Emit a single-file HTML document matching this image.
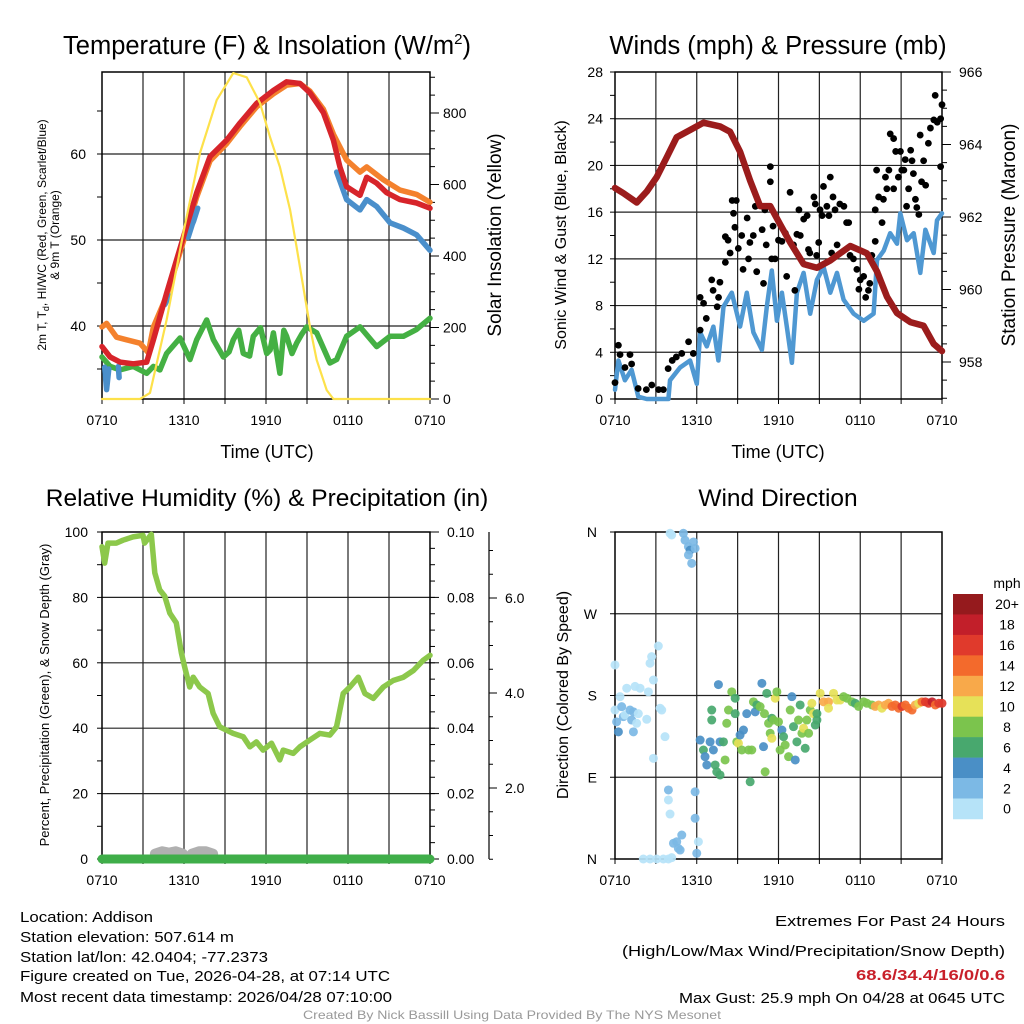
<!DOCTYPE html>
<html><head><meta charset="utf-8"><style>
html,body{margin:0;padding:0;background:#fff;width:1024px;height:1024px;overflow:hidden}
svg{display:block;font-family:"Liberation Sans",Arial,sans-serif}
</style></head><body>
<svg id="root" width="1024" height="1024" viewBox="0 0 1024 1024"></svg>
<script>
// ---------- DATA ----------
const tempT = [0,0.59,1.32,2.29,3.27,3.76,4.73,5.95,6.93,7.9,9.12,10.1,11.32,12.54,13.51,14.49,15.22,16.2,16.93,17.41,17.9,18.88,19.37,20.1,20.83,21.8,23.02,24];
const tempV = [37.6,36.4,35.8,35.6,35.8,38.4,43.8,50.3,55.5,59.7,61.6,63.6,65.9,67.4,68.4,68.2,67.1,64.8,61.6,58.5,56.2,55.2,57.3,56.6,55.5,54.7,54.3,53.7];
const t9T = [0,0.34,1.07,1.8,2.78,3.39,3.76,4.73,5.95,6.93,7.9,9.12,10.1,11.32,12.54,13.51,14.49,15.22,16.2,16.93,17.9,18.88,19.37,20.59,21.8,23.02,24];
const t9V = [39.9,40.3,38.7,38.4,38.0,36.9,39.9,43.5,49.8,55.0,59.2,61.2,63.2,65.5,67.0,68.0,68.2,67.3,65.2,62.3,59.3,57.9,58.5,57.0,55.8,55.3,54.4];
const hiT = [0.2,0.34,0.5,null,1.2,1.25,null,4.6,4.9,null,6.3,6.6,6.7,7.0,null,17.17,17.9,18.88,19.37,20.1,21.07,22.05,23.02,24];
const hiV = [35.2,32.6,35.0,null,35.3,34.0,null,42.5,43.5,null,50.3,51.8,52.2,53.7,null,57.9,54.7,53.5,54.7,53.9,52.0,51.4,50.6,48.8];
const tdT = [0,0.59,1.32,2.29,3.27,3.76,4.24,4.73,5.71,6.44,6.93,7.66,8.15,8.88,9.3,9.61,10.0,10.34,10.8,11.07,11.6,12.05,12.3,12.54,13.02,13.3,13.51,13.9,14.24,14.6,14.98,15.71,16.68,17.17,17.9,18.88,20.1,21.07,22.05,23.02,24];
const tdV = [36.4,35.3,34.9,35.3,34.5,35.3,34.9,36.8,38.6,36.1,38.4,40.7,38.4,36.4,37.0,38.4,39.5,36.8,36.5,38.8,39.8,36.8,37.2,39.2,34.5,39.5,38.8,36.8,38.0,39.0,39.9,39.2,35.7,36.1,38.8,39.9,37.6,38.8,38.8,39.6,40.9];
const solT = [0,2.78,3.51,4.73,5.95,7.17,8.39,9.61,10.59,11.56,12.29,13.02,13.76,14.24,14.73,15.22,15.71,16.44,16.93,24];
const solV = [0,0,17,221,464,688,836,912,900,828,733,649,529,425,313,201,109,25,0,0];
const presT = [0,0.61,1.59,2.33,3.06,3.8,4.53,5.51,6.49,7.71,8.45,9.18,9.92,10.65,11.39,12.12,12.86,13.84,14.82,15.8,16.53,17.27,18.49,19.23,19.96,20.7,21.67,22.65,23.39,24];
const presV = [962.8,962.66,962.4,962.7,963.1,963.65,964.2,964.4,964.6,964.5,964.35,963.8,963.0,962.3,962.3,961.8,961.3,960.7,960.6,960.8,961.0,961.2,961.0,960.5,959.8,959.35,959.1,959.0,958.5,958.3];
const windT = [0,0.25,0.73,1.22,1.71,2.33,3.31,3.92,4.04,4.78,5.51,6.0,6.25,6.74,7.22,7.59,7.96,8.57,9.18,9.67,10.16,10.78,11.14,11.51,11.88,12.25,12.61,12.98,13.35,13.84,14.33,14.82,15.31,15.8,16.29,16.78,17.51,18.25,18.98,19.23,19.72,20.2,20.7,20.94,21.43,21.92,22.41,22.78,23.39,23.63,24];
const windV = [0.8,3.3,1.6,2.5,0.2,0,0,0,1.6,2.7,3.3,1.3,5.7,4.5,6.2,3.3,7.9,9.1,6.2,9.1,5.7,4.2,7.9,11.0,6.7,9.1,6.2,3.1,9.1,10.8,7.3,10.2,11.3,9.1,10.8,8.5,7.3,6.7,7.3,11.9,12.7,14.2,13.3,15.9,13.6,14.2,10.8,14.5,12.5,15.3,15.9];
const gustT = [0,0.25,0.37,0.73,1.1,1.22,1.7,2.3,2.7,3.2,3.55,3.9,4.2,4.5,4.9,5.4,5.75,6.25,6.25,6.5,6.7,7.1,7.2,7.5,7.6,7.7,8.1,8.1,8.3,8.45,8.6,8.7,8.8,8.9,9.05,9.3,9.4,9.7,9.8,9.9,10.15,10.3,10.4,10.8,10.9,11.0,11.1,11.4,11.4,11.5,11.6,11.75,12,12.25,12.5,12.6,12.85,13.1,13.2,13.35,13.5,13.6,13.85,14.1,14.2,14.3,14.6,14.7,14.8,14.95,15.05,15.2,15.3,15.55,15.7,15.8,15.9,16.0,16.15,16.3,16.5,16.8,17.0,17.15,17.25,17.5,17.75,17.9,18.0,18.25,18.4,18.6,18.7,18.85,19.1,19.1,19.2,19.35,19.6,19.7,19.85,19.95,20.1,20.2,20.45,20.45,20.6,20.8,20.95,21.05,21.2,21.3,21.4,21.55,21.7,21.8,21.9,22.05,22.15,22.3,22.4,22.5,22.65,22.8,23.0,23.15,23.4,23.5,23.65,23.9,24,23.9];
const gustV = [1.4,4.6,3.8,2.7,3.8,3.0,0.9,0.8,1.2,0.8,0.8,2.6,3.3,3.6,3.9,4.9,3.9,5.9,8.7,8.2,6.9,10.2,9.3,7.9,8.7,10.0,11.7,13.9,13.6,12.5,17.0,15.9,14.7,17.0,12.9,14.0,11.1,15.5,12.0,13.4,14.0,16.5,10.9,14.5,9.9,16.2,13.2,19.9,18.6,12.0,14.8,12.0,13.6,13.5,14.2,10.5,17.7,13.2,9.3,14.1,16.2,14.0,15.4,15.7,12.8,12.5,17.3,16.7,12.3,13.4,16.2,15.7,18.2,16.5,15.7,19.0,12.5,17.3,16.2,13.2,16.7,16.5,15.1,15.1,12.3,12.0,11.1,9.4,10.2,10.5,8.7,9.3,9.9,12.3,13.5,16.2,19.6,17.3,15.1,17.1,19.0,18.0,19.6,22.7,22.3,18.0,21.2,19.0,21.2,19.6,19.6,20.5,16.5,18.0,21.3,20.4,19.3,17.1,16.4,15.8,22.6,18.6,20.4,18.3,21.9,23.2,23.9,26.0,23.7,24.0,25.2,19.9];
const rhT = [0,0.2,0.44,1.05,1.54,2.27,3.0,3.12,3.61,3.86,4.22,4.59,4.96,5.44,5.81,6.05,6.42,6.67,7.15,7.76,8.13,8.62,9.11,9.59,10.33,10.82,11.3,11.79,12.4,13.01,13.26,13.99,14.48,15.21,15.94,16.67,17.16,17.65,18.14,18.75,19.24,19.85,20.58,21.31,22.05,22.78,23.51,24];
const rhV = [95.5,90.5,96.6,96.6,97.5,98.5,99,96.6,99.3,87.5,82.3,80.4,75.2,72.2,63,58.7,52.6,55.6,52.6,50.6,44.6,40.4,39.4,38.4,37.4,34.3,35.8,33.3,35.4,30.3,33.3,32.3,34.3,36.4,38.4,37.9,40.4,50.6,52.6,55.6,50.6,49.1,52.6,54.6,55.6,57.6,60.8,62.3];
const precT = [0,24];
const precV = [0,0];
const snowT = [3.9,4.4,4.9,5.4,5.9,null,6.6,7.1,7.6,8.1];
const snowV = [0.0015,0.0022,0.0018,0.0022,0.0015,null,0.0015,0.0022,0.0022,0.0015];
const dirT = [0,0,0.12,0.25,0.37,0.49,0.61,0.73,0.86,1.10,1.22,1.35,1.47,1.59,1.71,1.35,1.84,2.33,2.45,2.57,2.69,2.82,3.18,3.31,3.43,3.67,2.82,3.92,3.92,4.04,4.29,4.53,4.78,4.90,4.65,2.08,2.57,3.06,3.55,3.92,4.16,5.88,5.88,6.12,6.0,4.04,4.16,5.02,5.14,5.39,5.51,5.76,5.88,5.39,5.63,
7.59,6.25,6.49,6.61,6.74,6.98,7.10,7.10,7.22,7.35,7.47,7.71,7.71,7.96,8.08,8.2,8.33,8.57,8.82,8.82,8.94,9.06,9.18,9.31,9.43,9.67,9.80,9.92,10.04,10.16,10.29,10.41,10.65,10.78,10.9,10.97,11.02,11.14,11.27,11.39,11.51,11.51,11.63,11.76,11.88,12.0,12.12,12.25,12.37,12.49,12.74,12.86,12.98,13.1,13.23,13.35,13.47,13.59,13.72,13.84,13.96,14.08,14.21,14.33,14.45,14.57,14.7,14.82,14.82,
15.06,15.31,15.67,15.67,16.04,16.29,16.53,16.78,17.02,17.39,17.63,17.88,18.25,18.49,18.86,19.1,19.35,19.59,19.84,20.08,20.33,20.57,20.82,21.06,21.31,21.55,21.8,22.04,22.29,22.53,22.78,23.02,23.27,23.51,23.76,24];
const dirV = [213.6,164,151,140,178.7,167.7,156.7,158.5,188,164,153,162,190,149.4,160,140,188,153.8,184,215.5,222.8,197,234.5,166,164,134.7,110.8,76,65,49.5,17.3,19,9.9,26.4,11.7,0,0,0,0,0,1.5,74,44.8,19,6.3,358.6,356.7,358.6,351,343.9,340,349,342,334.7,325.5,
192,131,120,112.7,103.5,129,164,153,120,103.5,96,92.5,129,129,109,149.4,164,184,177,160,129,127.4,136.5,120,142,160,120,85,120,173,162,169.6,167.7,193.4,123.7,160,96,182.4,149.4,138.4,155,132.9,153,177,184,151,120,142,134.7,125.5,112.7,164,178.7,145.7,109,129,153,169.6,138.4,143.9,121.9,153,138.4,164,171.4,160,147.5,153,160,
182.4,173,173,166,182.4,175,175,178.7,177,173,171.4,168,173,171.4,169.6,168,169.6,166,169.6,171.4,168,169.6,166,168,169.6,166,164,169.6,171.4,173,173,171.4,173,169.6,171.4,171.4];
const dirS = [1,1.5,2,4.5,1.5,2.5,3,1,1,3,3,2.5,1,1.5,1.5,3,1,1,1,1,1,1,1,1,1,1,1,3,1,1,2.5,2.5,2.5,2.5,2.5,1,1,1,1,1,1,3,2,1,3,1,1,2,2,2,4,2,2,2,2,
4,4,6,4,4,4,6,6,4,6,6,6,4,6,8,8,8,8,7,6,8,10,4,8,4,4,8,6,8,8,4,6,8,4,4,8,8,6,8,8,6,10,8,10,8,8,8,4,6,8,8,8,4,6,4,6,8,6,8,10,6,8,8,8,10,10,6,6,6,
10,12,12,10,10,10,10,8,8,8,6,8,8,8,8,12,12,10,12,12,14,14,14,16,14,14,14,12,10,14,16,16,18,14,16,16];
const speedColors = ['#b6e3f8','#7cb9e5','#4a8fc6','#48a86e','#7bc44d','#e6e158','#f8a94a','#f36a2c','#e03a2c','#c21f2a','#951a1d'];
const speedLabels = ['0','2','4','6','8','10','12','14','16','18','20+'];
const xTickLabels = ['0710','1310','1910','0110','0710'];
const xTickHours = [0,6,12,18,24];

// ---------- HELPERS ----------
const NS='http://www.w3.org/2000/svg';
const root=document.getElementById('root');
function mk(tag,attrs,parent){const e=document.createElementNS(NS,tag);for(const k in attrs)e.setAttribute(k,attrs[k]);(parent||root).appendChild(e);return e;}
function grp(name){const g=mk('g',{});return g;}
function txt(g,x,y,s,size,anchor,extra){const t=mk('text',Object.assign({x:x,y:y,'font-size':size,'text-anchor':anchor||'middle',fill:'#000'},extra||{}),g);t.textContent=s;return t;}
function linear(d0,d1,r0,r1){return v=>r0+(v-d0)/(d1-d0)*(r1-r0);}
function pathFrom(T,V,sx,sy){let d='',pen=false;for(let i=0;i<T.length;i++){if(T[i]===null||V[i]===null){pen=false;continue;}d+=(pen?'L':'M')+sx(T[i]).toFixed(1)+','+sy(V[i]).toFixed(1);pen=true;}return d;}
function series(g,T,V,sx,sy,color,w){return mk('path',{d:pathFrom(T,V,sx,sy),fill:'none',stroke:color,'stroke-width':w,'stroke-linejoin':'round','stroke-linecap':'round'},g);}
function frame(g,x0,x1,y0,y1,sx,hy){
  for(let h=3;h<24;h+=3){mk('line',{x1:sx(h),x2:sx(h),y1:y0,y2:y1,stroke:'#222','stroke-width':1.2},g);}
  hy.forEach(y=>mk('line',{x1:x0,x2:x1,y1:y,y2:y,stroke:'#222','stroke-width':1.2},g));
  mk('rect',{x:x0,y:y0,width:x1-x0,height:y1-y0,fill:'none',stroke:'#000','stroke-width':1.5},g);
  for(let h=0;h<=24;h+=3){mk('line',{x1:sx(h),x2:sx(h),y1:y1,y2:y1+5,stroke:'#000','stroke-width':1},g);}
  xTickHours.forEach((h,i)=>txt(g,sx(h),y1+26,xTickLabels[i],14));
}
function yTicks(g,x,vals,sy,len){vals.forEach(v=>mk('line',{x1:x,x2:x+len,y1:sy(v),y2:sy(v),stroke:'#000','stroke-width':1},g));}

// ---------- PANEL 1 ----------
(function(){
  const x0=102,x1=430,y0=72,y1=399;
  const sx=linear(0,24,x0,x1), sy=linear(40,60,326,154), sq=linear(0,800,399,113);
  const g=grp('temperature-panel');
  frame(g,x0,x1,y0,y1,sx,[sy(40),sy(50),sy(60)]);
  yTicks(g,x0,[35,40,45,50,55,60,65],sy,-5);
  [40,50,60].forEach(v=>txt(g,x0-16,sy(v)+5,String(v),14,'end'));
  const q=[];for(let v=0;v<=900;v+=50)q.push(v);
  yTicks(g,x1,q,sq,5);
  [0,200,400,600,800].forEach(v=>{mk('line',{x1:x1,x2:x1+9,y1:sq(v),y2:sq(v),stroke:'#000'},g);txt(g,x1+13,sq(v)+5,String(v),14,'start');});
  const s1=series(g,tdT,tdV,sx,sy,'#44b043',5.5);
  
  
  const s2=series(g,t9T,t9V,sx,sy,'#f4812d',5.5);
  
  
  const s3=series(g,hiT,hiV,sx,sy,'#4a8fcb',5.5);
  
  
  const s4=series(g,tempT,tempV,sx,sy,'#d7242a',5.5);
  
  
  const s5=series(g,solT,solV,sx,sq,'#fde14a',2.2);
  
  
  const tt=txt(g,267,54,'',25.5);tt.innerHTML='Temperature (F) &amp; Insolation (W/m<tspan font-size="15" dy="-10">2</tspan><tspan dy="10">)</tspan>';
  
  txt(g,267,458,'Time (UTC)',18);
  const a=txt(g,0,0,'',12,'middle',{transform:'translate(46,235) rotate(-90)'});
  a.innerHTML='2m T, T<tspan font-size="9" dy="3">d</tspan><tspan dy="-3">, HI/WC (Red, Green, Scarlet/Blue)</tspan>';
  
  txt(g,0,0,'& 9m T (Orange)',12,'middle',{transform:'translate(59,235) rotate(-90)'});
  txt(g,0,0,'Solar Insolation (Yellow)',19,'middle',{transform:'translate(501,235) rotate(-90)'});
})();

// ---------- PANEL 2 ----------
(function(){
  const x0=615,x1=942,y0=72,y1=399;
  const sx=linear(0,24,x0,x1), sy=linear(0,28,399,72), sp=linear(958,966,362,72);
  const g=grp('winds-panel');
  frame(g,x0,x1,y0,y1,sx,[4,8,12,16,20,24].map(sy));
  const mt=[];for(let v=0;v<=28;v+=2)mt.push(v);
  yTicks(g,x0,mt,sy,-5);
  [0,4,8,12,16,20,24,28].forEach(v=>txt(g,x0-12,sy(v)+5,String(v),14,'end'));
  const pt=[];for(let v=957;v<=966;v+=0.5)pt.push(v);
  yTicks(g,x1,pt,sp,5);
  [958,960,962,964,966].forEach(v=>{mk('line',{x1:x1,x2:x1+9,y1:sp(v),y2:sp(v),stroke:'#000'},g);txt(g,x1+17,sp(v)+5,String(v),14,'start');});
  const w=series(g,windT,windV,sx,sy,'#4f98d2',4.5);
  
  
  const gg=mk('g',{},g);
  
  
  gustT.forEach((t,i)=>mk('circle',{cx:sx(t),cy:sy(gustV[i]),r:3.4,fill:'#000'},gg));
  const p=series(g,presT,presV,sx,sp,'#9b1c1c',6.5);
  
  
  txt(g,778,54,'Winds (mph) & Pressure (mb)',25.5);
  txt(g,778,458,'Time (UTC)',18);
  txt(g,0,0,'Sonic Wind & Gust (Blue, Black)',16,'middle',{transform:'translate(566,235) rotate(-90)'});
  txt(g,0,0,'Station Pressure (Maroon)',19,'middle',{transform:'translate(1015,235) rotate(-90)'});
})();

// ---------- PANEL 3 ----------
(function(){
  const x0=102,x1=430,y0=532,y1=859;
  const sx=linear(0,24,x0,x1), sy=linear(0,100,859,532), spr=linear(0,0.1,859,532), ssn=linear(0,2,883,788);
  const g=grp('humidity-panel');
  frame(g,x0,x1,y0,y1,sx,[20,40,60,80].map(sy));
  const mt=[];for(let v=0;v<=100;v+=10)mt.push(v);
  yTicks(g,x0,mt,sy,-5);
  [0,20,40,60,80,100].forEach(v=>txt(g,x0-14,sy(v)+5,String(v),14,'end'));
  const pt=[];for(let v=0;v<=0.1001;v+=0.005)pt.push(v);
  yTicks(g,x1,pt,spr,5);
  [0,0.02,0.04,0.06,0.08,0.1].forEach(v=>{mk('line',{x1:x1,x2:x1+9,y1:spr(v),y2:spr(v),stroke:'#000'},g);txt(g,x1+17,spr(v)+5,v.toFixed(2),14,'start');});
  const sa=grp('snow-depth-axis');g.appendChild(sa);
  mk('line',{x1:489,x2:489,y1:532,y2:859,stroke:'#000','stroke-width':1.2},sa);
  for(let v=0.5;v<=7.3;v+=0.5){mk('line',{x1:489,x2:(v%2===0)?497:493,y1:ssn(v),y2:ssn(v),stroke:'#000'},sa);}
  [2,4,6].forEach(v=>txt(sa,505,ssn(v)+5,v.toFixed(1),14,'start'));
  const sn=series(g,snowT,snowV,sx,spr,'#b0b0b0',11);
  
  
  const pr=series(g,precT,precV,sx,spr,'#3fae49',9);
  
  
  const rh=series(g,rhT,rhV,sx,sy,'#8cc84b',5.5);
  
  
  txt(g,267,506,'Relative Humidity (%) & Precipitation (in)',24.5);
  txt(g,0,0,'Percent, Precipitation (Green), & Snow Depth (Gray)',13,'middle',{transform:'translate(49,695) rotate(-90)'});
})();

// ---------- PANEL 4 ----------
(function(){
  const x0=615,x1=942,y0=532,y1=859;
  const sx=linear(0,24,x0,x1), sy=linear(0,360,859,532);
  const g=grp('wind-direction-panel');
  frame(g,x0,x1,y0,y1,sx,[90,180,270].map(sy));
  [[0,'N'],[90,'E'],[180,'S'],[270,'W'],[360,'N']].forEach(d=>{mk('line',{x1:x0,x2:x0-5,y1:sy(d[0]),y2:sy(d[0]),stroke:'#000'},g);txt(g,x0-18,sy(d[0])+5,d[1],14,'end');});
  const pg=mk('g',{},g);
  
  
  dirT.forEach((t,i)=>{const b=Math.min(10,Math.floor(dirS[i]/2));mk('circle',{cx:sx(t),cy:sy(dirV[i]),r:4.5,fill:speedColors[b],'fill-opacity':0.92},pg);});
  txt(g,778,506,'Wind Direction',24.5);
  txt(g,0,0,'Direction (Colored By Speed)',16,'middle',{transform:'translate(568,695) rotate(-90)'});
  const cb=grp('speed-colorbar');g.appendChild(cb);
  const bh=20.45, top=594;
  for(let i=0;i<11;i++){const k=10-i;mk('rect',{x:953,y:top+i*bh,width:30,height:bh+0.3,fill:speedColors[k]},cb);txt(cb,1007,top+i*bh+bh/2+5,speedLabels[k],14);}
  txt(cb,1007,588,'mph',14);
})();

// ---------- FOOTER ----------
(function(){
  const g=grp('station-info');
  const lines=['Location: Addison','Station elevation: 507.614 m','Station lat/lon: 42.0404; -77.2373','Figure created on Tue, 2026-04-28, at 07:14 UTC','Most recent data timestamp: 2026/04/28 07:10:00'];
  const lens=[133,214,248,370,372];
  lines.forEach((s,i)=>txt(g,20,[922,942,962,981,1002][i],s,15,'start',{textLength:lens[i],lengthAdjust:'spacingAndGlyphs'}));
  const r=grp('extremes-summary');
  txt(r,1005,926,'Extremes For Past 24 Hours',15,'end',{textLength:230,lengthAdjust:'spacingAndGlyphs'});
  txt(r,1005,956,'(High/Low/Max Wind/Precipitation/Snow Depth)',15,'end',{textLength:383,lengthAdjust:'spacingAndGlyphs'});
  txt(r,1005,980,'68.6/34.4/16/0/0.6',15,'end',{fill:'#c8202a','font-weight':'bold',textLength:149,lengthAdjust:'spacingAndGlyphs'});
  txt(r,1005,1003,'Max Gust: 25.9 mph On 04/28 at 0645 UTC',15,'end',{textLength:326,lengthAdjust:'spacingAndGlyphs'});
  const c=txt(root,512,1019,'Created By Nick Bassill Using Data Provided By The NYS Mesonet',12,'middle',{fill:'#999',textLength:418,lengthAdjust:'spacingAndGlyphs'});
  
  
})();
</script>
</body></html>
